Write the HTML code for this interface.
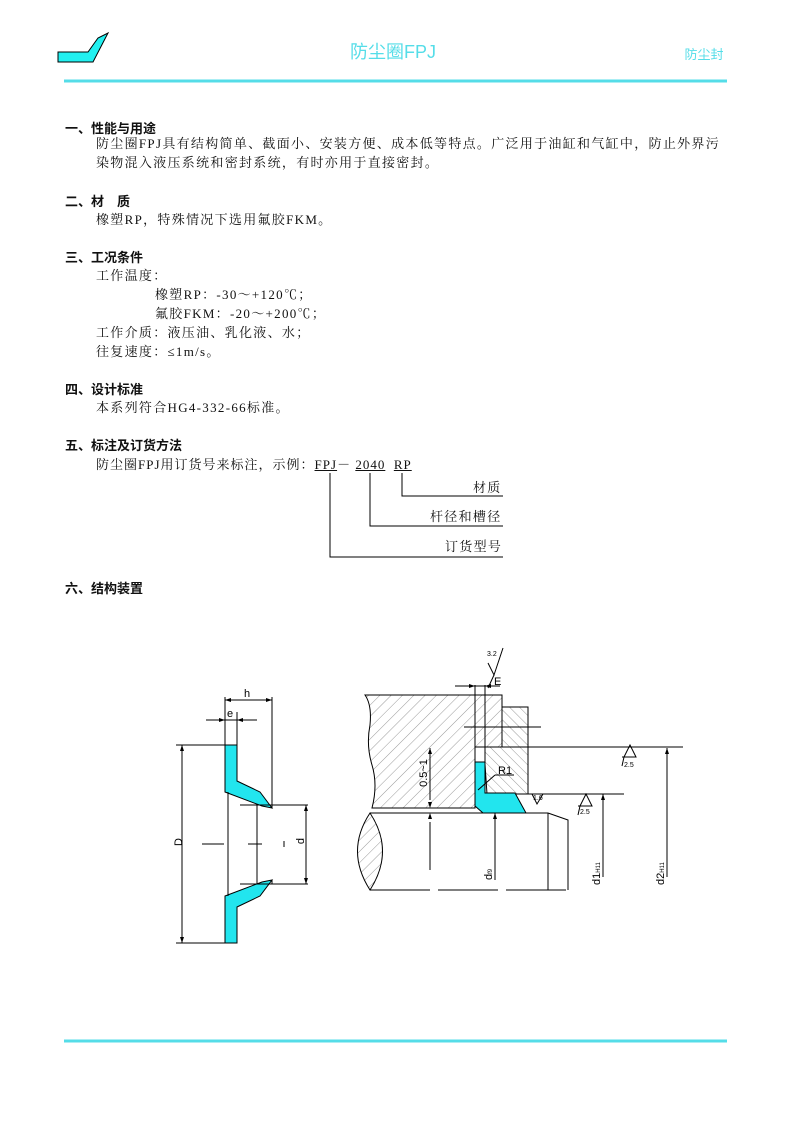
<!DOCTYPE html>
<html><head><meta charset="utf-8"><style>
body{margin:0;width:794px;height:1123px;background:#fff;position:relative;overflow:hidden}
.t{position:absolute;white-space:nowrap;font-family:"Liberation Serif","Noto Serif CJK SC",serif;font-size:13px;color:#111;line-height:16px;letter-spacing:1.3px}
.h{position:absolute;white-space:nowrap;font-family:"Liberation Sans","Noto Sans CJK SC",sans-serif;font-size:13px;font-weight:bold;color:#111;line-height:16px}
.u{text-decoration:underline}
</style></head><body>
<svg width="794" height="1123" style="position:absolute;left:0;top:0">
<polygon points="58,52 88,52 98,38 108,33 93,62 58,62" fill="#22f0f0" stroke="#000" stroke-width="1"/>
<line x1="64" y1="81" x2="727" y2="81" stroke="#55dde8" stroke-width="3"/>
<line x1="64" y1="1041" x2="727" y2="1041" stroke="#55dde8" stroke-width="3"/>
<text x="393" y="58" font-family="Liberation Sans,Noto Sans CJK SC,sans-serif" font-size="18" fill="#55dde8" text-anchor="middle">防尘圈FPJ</text>
<text x="704" y="59" font-family="Liberation Sans,Noto Sans CJK SC,sans-serif" font-size="13" fill="#55dde8" text-anchor="middle">防尘封</text>
<g stroke="#000" stroke-width="1" fill="none">
<polyline points="330,473 330,557 503,557"/>
<polyline points="370,473 370,526 503,526"/>
<polyline points="402,473 402,496 503,496"/>
</g>
<!-- left drawing -->
<g stroke="#000" stroke-width="1">
<polygon points="225,745 237,745 237,781 260,792 272,808 262,806 225,792" fill="#22e5ee"/>
<polygon points="225,943 237,943 237,907 260,896 272,880 262,882 225,896" fill="#22e5ee"/>
<line x1="228" y1="792" x2="228" y2="896"/>
<line x1="257" y1="804" x2="257" y2="884"/>
<line x1="272" y1="697" x2="272" y2="808"/>
<line x1="272" y1="880" x2="272" y2="884"/>
<line x1="225" y1="697" x2="225" y2="745"/>
<line x1="237" y1="712" x2="237" y2="745"/>
<line x1="225" y1="700" x2="272" y2="700"/>
<line x1="206" y1="720" x2="257" y2="720"/>
<line x1="240" y1="805" x2="308" y2="805"/>
<line x1="240" y1="884" x2="308" y2="884"/>
<line x1="306" y1="805" x2="306" y2="884"/>
<line x1="176" y1="745" x2="225" y2="745"/>
<line x1="176" y1="943" x2="225" y2="943"/>
<line x1="182" y1="745" x2="182" y2="943"/>
<line x1="202" y1="844" x2="224" y2="844"/>
<line x1="248" y1="844" x2="262" y2="844"/>
<line x1="284" y1="841" x2="284" y2="847"/>
</g>
<g fill="#000">
<polygon points="225,700 231,698 231,702"/><polygon points="272,700 266,698 266,702"/>
<polygon points="225,720 219,718 219,722"/><polygon points="237,720 243,718 243,722"/>
<polygon points="306,805 304,811 308,811"/><polygon points="306,884 304,878 308,878"/>
<polygon points="182,745 180,751 184,751"/><polygon points="182,943 180,937 184,937"/>
</g>
<g font-family="Liberation Sans,sans-serif" font-size="11" fill="#000">
<text x="244" y="697">h</text><text x="227" y="717">e</text>
<text x="180" y="848" transform="rotate(-90 178 844)" text-anchor="middle">D</text>
<text x="303" y="848" transform="rotate(-90 300 844)" text-anchor="middle">d</text>
</g>
<!-- right drawing -->
<defs>
<pattern id="hp" width="8" height="8" patternUnits="userSpaceOnUse" patternTransform="rotate(45)"><line x1="0" y1="0" x2="0" y2="8" stroke="#555" stroke-width="0.6"/></pattern>
<pattern id="hp2" width="7" height="7" patternUnits="userSpaceOnUse" patternTransform="rotate(-45)"><line x1="0" y1="0" x2="0" y2="7" stroke="#555" stroke-width="0.6"/></pattern>
</defs>
<g stroke="#000" stroke-width="1">
<path d="M365,695 L502,695 L502,747 L475,747 L475,808 L372,808 Q378,785 372,765 Q366,745 370,725 Q372,705 365,695 Z" fill="url(#hp)"/>
<path d="M502,707 L528,707 L528,794 L487,794 L485,764 L485,747 L502,747 Z" fill="url(#hp2)"/>
<line x1="475" y1="747" x2="683" y2="747"/>
<line x1="487" y1="794" x2="624" y2="794"/>
<line x1="485" y1="685" x2="485" y2="764"/>
<line x1="475" y1="685" x2="475" y2="747"/>
<line x1="464" y1="727" x2="541" y2="727"/>
<polygon points="475,762 485,762 485,793 515,793 526,813 483,813 475,806" fill="#22e5ee"/>
<line x1="370" y1="813" x2="548" y2="813"/>
<line x1="548" y1="813" x2="548" y2="890"/>
<polyline points="548,813 568,820 568,890" fill="none"/>
<line x1="370" y1="890" x2="568" y2="890" stroke-dasharray="60,8"/>
<path d="M370,813 Q345,851 370,890 Q395,851 370,813 Z" fill="url(#hp)"/>
<line x1="455" y1="686" x2="500" y2="686"/>
<line x1="430" y1="748" x2="430" y2="800"/>
<line x1="430" y1="822" x2="430" y2="870"/>
<line x1="495" y1="813" x2="495" y2="880"/>
<line x1="603" y1="794" x2="603" y2="877"/>
<line x1="667" y1="748" x2="667" y2="877"/>
<polyline points="488,663 494,675 503,648" fill="none"/>
<line x1="494" y1="675" x2="488" y2="688"/>
<polyline points="624,757 630,745 636,757 622,757" fill="none"/><line x1="622" y1="766" x2="624" y2="757"/>
<polyline points="580,806 586,794 592,806 578,806" fill="none"/><line x1="578" y1="815" x2="580" y2="806"/>
<polyline points="532,794 537,804 543,794" fill="none"/>
<line x1="478" y1="790" x2="495" y2="775"/><line x1="495" y1="775" x2="514" y2="775"/>
</g>
<g fill="#000">
<polygon points="475,686 469,684 469,688"/><polygon points="485,686 491,684 491,688"/>
<polygon points="430,748 428,754 432,754"/><polygon points="430,808 428,802 432,802"/><polygon points="430,813 428,819 432,819"/>
<polygon points="495,813 493,819 497,819"/><polygon points="603,794 601,800 605,800"/><polygon points="667,748 665,754 669,754"/>
</g>
<g font-family="Liberation Sans,sans-serif" fill="#000">
<text x="494" y="685" font-size="11">E</text>
<text x="498" y="774" font-size="11">R1</text>
<text x="427" y="773" font-size="11" transform="rotate(-90 427 773)" text-anchor="middle">0.5~1</text>
<text x="492" y="880" font-size="11" transform="rotate(-90 492 880)">d<tspan font-size="6">f9</tspan></text>
<text x="600" y="885" font-size="11" transform="rotate(-90 600 885)">d1<tspan font-size="6">H11</tspan></text>
<text x="664" y="885" font-size="11" transform="rotate(-90 664 885)">d2<tspan font-size="6">H11</tspan></text>
<text x="487" y="656" font-size="7">3.2</text>
<text x="624" y="767" font-size="7">2.5</text>
<text x="580" y="814" font-size="7">2.5</text>
<text x="533" y="800" font-size="7">1.6</text>
</g>
</svg>
<div class="h" style="left:65px;top:121px">一、性能与用途</div>
<div class="t" style="left:96px;top:136px">防尘圈FPJ具有结构简单、截面小、安装方便、成本低等特点。广泛用于油缸和气缸中，防止外界污</div>
<div class="t" style="left:96px;top:155px">染物混入液压系统和密封系统，有时亦用于直接密封。</div>
<div class="h" style="left:65px;top:194px">二、材　质</div>
<div class="t" style="left:96px;top:212px">橡塑RP，特殊情况下选用氟胶FKM。</div>
<div class="h" style="left:65px;top:250px">三、工况条件</div>
<div class="t" style="left:96px;top:268px">工作温度：</div>
<div class="t" style="left:155px;top:287px">橡塑RP：-30～+120℃；</div>
<div class="t" style="left:155px;top:306px">氟胶FKM：-20～+200℃；</div>
<div class="t" style="left:96px;top:325px">工作介质：液压油、乳化液、水；</div>
<div class="t" style="left:96px;top:344px">往复速度：≤1m/s。</div>
<div class="h" style="left:65px;top:382px">四、设计标准</div>
<div class="t" style="left:96px;top:400px">本系列符合HG4-332-66标准。</div>
<div class="h" style="left:65px;top:438px">五、标注及订货方法</div>
<div class="t" style="left:96px;top:457px;letter-spacing:1px">防尘圈FPJ用订货号来标注，示例：<span class="u">FPJ</span>－&nbsp;<span class="u">2040</span>&nbsp;&nbsp;<span class="u">RP</span></div>
<div class="t" style="left:473px;top:480px">材质</div>
<div class="t" style="left:430px;top:509px">杆径和槽径</div>
<div class="t" style="left:445px;top:539px">订货型号</div>
<div class="h" style="left:65px;top:581px">六、结构装置</div>
</body></html>
